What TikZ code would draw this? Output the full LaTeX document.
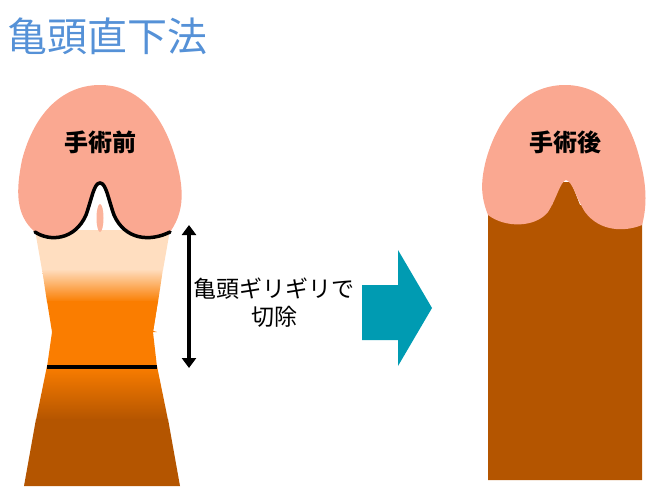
\documentclass[tikz,border=0pt]{standalone}
\usepackage{fontspec}
\usetikzlibrary{arrows.meta}
\newfontfamily\jp{Noto Sans CJK JP}
\definecolor{glans}{RGB}{250,168,145}
\definecolor{peach}{RGB}{255,222,192}
\definecolor{skinorange}{RGB}{250,125,0}
\definecolor{skinbrown}{RGB}{180,85,0}
\definecolor{teal}{RGB}{0,155,178}
\definecolor{titleblue}{RGB}{85,145,215}
\tikzset{
  lbl/.style={font=\jp\fontsize{24}{26}\selectfont\bfseries},
  note/.style={font=\jp\fontsize{23}{28}\selectfont, align=center},
}
\begin{document}
\begin{tikzpicture}[x=1pt,y=-1pt]
\useasboundingbox (0,0) rectangle (666,498);

% title
\node[anchor=west, text=titleblue, font=\jp\fontsize{40}{44}\selectfont] (title) at (4,36) {亀頭直下法};

% before: shaft
\fill[peach] (35,230) -- (170,230) -- (163,270) -- (42,270) -- cycle;
\shade[top color=peach, bottom color=skinorange]
  (42,269) -- (163,269) -- (158,302) -- (47,302) -- cycle;
\fill[skinorange] (47,301) -- (158,301) -- (153,332) -- (52,332) -- (157,332) -- cycle;
\fill[skinorange] (47,301) -- (158,301) -- (153,332) -- (157,367) -- (47,367) -- (52,332) -- cycle;
\shade[top color=skinorange, bottom color=skinbrown]
  (47,366) -- (157,366) -- (168,420) -- (36,420) -- cycle;
\fill[skinbrown] (36,419) -- (168,419) -- (180,486) -- (24,486) -- cycle;

% before: glans
\fill[glans] (35,232) .. controls (15,215) and (16,190) .. (22,160)
  .. controls (35,110) and (65,85) .. (100,85)
  .. controls (135,85) and (162,110) .. (176,160)
  .. controls (186,195) and (182,215) .. (170,232)
  .. controls (150,242) and (125,240) .. (114,215)
  .. controls (108,198) and (106,183) .. (100,183)
  .. controls (94,183) and (92,198) .. (86,215)
  .. controls (75,240) and (50,242) .. (35,232);
\fill[glans!80!peach] (100,218) ellipse (3.5 and 14);
\draw[line width=3.5pt, line cap=round] (35,232)
  .. controls (50,242) and (75,240) .. (86,215)
  .. controls (92,198) and (94,183) .. (100,183)
  .. controls (106,183) and (108,198) .. (114,215)
  .. controls (125,240) and (150,242) .. (170,232);
\draw[line width=3.5pt] (47,367) -- (157,367);
\node[lbl] (before) at (100,142) {手術前};

% cut range
\coordinate (cuttop) at (189,225);
\coordinate (cutbot) at (189,368);
\draw[line width=3.5pt, {Triangle[length=10pt,width=14pt]}-{Triangle[length=10pt,width=14pt]}] (cuttop) -- (cutbot);
\node[note] (cutnote) at (274,303) {亀頭ギリギリで\\切除};

% big arrow
\fill[teal] (362,285) -- (398,285) -- (398,250) -- (432,308) -- (398,366) -- (398,340) -- (362,340) -- cycle;

% after
\fill[skinbrown] (488,205) -- (552,205) -- (560,182) -- (571,182) -- (580,205) -- (642,205) -- (642,480) -- (488,480) -- cycle;
\fill[glans] (488,215) .. controls (480,195) and (481,180) .. (486,160)
  .. controls (500,110) and (530,85) .. (565,85)
  .. controls (600,85) and (628,110) .. (640,160)
  .. controls (648,190) and (646,210) .. (642,225)
  .. controls (625,232) and (600,232) .. (585,212)
  .. controls (576,198) and (573,182) .. (566,180)
  .. controls (560,182) and (557,198) .. (548,212)
  .. controls (535,228) and (505,228) .. (488,215);
\node[lbl] (after) at (565,142) {手術後};
\end{tikzpicture}
\end{document}
